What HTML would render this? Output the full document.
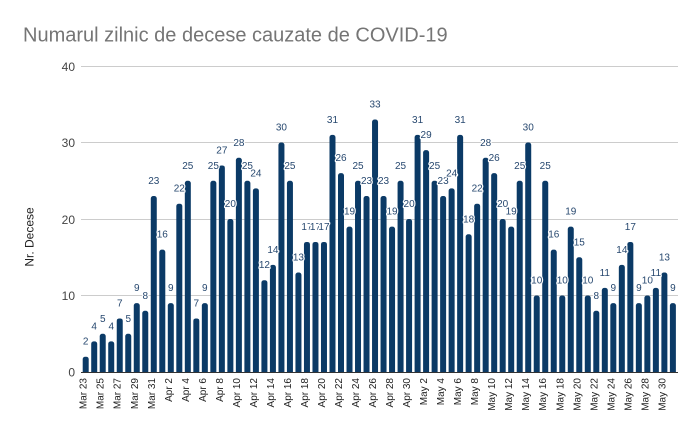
<!DOCTYPE html>
<html><head><meta charset="utf-8"><style>
html,body{margin:0;padding:0;background:#fff;}
svg{display:block;font-family:"Liberation Sans",Arial,sans-serif;}
.dl text{font-size:10px;fill:#27486f;text-anchor:middle;stroke:#fff;stroke-width:2.5px;paint-order:stroke;stroke-linejoin:round;}
.xl text{font-size:10px;fill:#222;text-anchor:end;}
.yl text{font-size:12px;fill:#444;text-anchor:end;}
</style></head><body>
<svg width="700" height="434" viewBox="0 0 700 434" xmlns="http://www.w3.org/2000/svg">
<defs><clipPath id="pc"><rect x="0" y="0" width="700" height="372"/></clipPath></defs>
<rect width="700" height="434" fill="#fff"/>
<text x="23" y="41.5" font-size="20" fill="#757575">Numarul zilnic de decese cauzate de COVID-19</text>
<g stroke="#cccccc" stroke-width="1">
<line x1="81" x2="678" y1="66.5" y2="66.5"/>
<line x1="81" x2="678" y1="142.5" y2="142.5"/>
<line x1="81" x2="678" y1="219.5" y2="219.5"/>
<line x1="81" x2="678" y1="295.5" y2="295.5"/>
</g>
<g class="yl">
<text x="75" y="71">40</text>
<text x="75" y="147">30</text>
<text x="75" y="224">20</text>
<text x="75" y="300">10</text>
<text x="75" y="376.5">0</text>
</g>
<text transform="translate(33.5,237) rotate(-90)" text-anchor="middle" font-size="12" fill="#222">Nr. Decese</text>
<g fill="#0b3a66" clip-path="url(#pc)">
<rect x="82.7" y="356.7" width="6" height="20" rx="2.5"/>
<rect x="91.21" y="341.4" width="6" height="35" rx="2.5"/>
<rect x="99.72" y="333.75" width="6" height="43" rx="2.5"/>
<rect x="108.23" y="341.4" width="6" height="35" rx="2.5"/>
<rect x="116.74" y="318.45" width="6" height="58" rx="2.5"/>
<rect x="125.25" y="333.75" width="6" height="43" rx="2.5"/>
<rect x="133.76" y="303.15" width="6" height="73" rx="2.5"/>
<rect x="142.27" y="310.8" width="6" height="66" rx="2.5"/>
<rect x="150.78" y="196.05" width="6" height="181" rx="2.5"/>
<rect x="159.29" y="249.6" width="6" height="127" rx="2.5"/>
<rect x="167.8" y="303.15" width="6" height="73" rx="2.5"/>
<rect x="176.31" y="203.7" width="6" height="173" rx="2.5"/>
<rect x="184.82" y="180.75" width="6" height="196" rx="2.5"/>
<rect x="193.33" y="318.45" width="6" height="58" rx="2.5"/>
<rect x="201.84" y="303.15" width="6" height="73" rx="2.5"/>
<rect x="210.35" y="180.75" width="6" height="196" rx="2.5"/>
<rect x="218.86" y="165.45" width="6" height="211" rx="2.5"/>
<rect x="227.37" y="219" width="6" height="158" rx="2.5"/>
<rect x="235.88" y="157.8" width="6" height="219" rx="2.5"/>
<rect x="244.39" y="180.75" width="6" height="196" rx="2.5"/>
<rect x="252.9" y="188.4" width="6" height="188" rx="2.5"/>
<rect x="261.41" y="280.2" width="6" height="96" rx="2.5"/>
<rect x="269.92" y="264.9" width="6" height="112" rx="2.5"/>
<rect x="278.43" y="142.5" width="6" height="234" rx="2.5"/>
<rect x="286.94" y="180.75" width="6" height="196" rx="2.5"/>
<rect x="295.45" y="272.55" width="6" height="104" rx="2.5"/>
<rect x="303.96" y="241.95" width="6" height="135" rx="2.5"/>
<rect x="312.47" y="241.95" width="6" height="135" rx="2.5"/>
<rect x="320.98" y="241.95" width="6" height="135" rx="2.5"/>
<rect x="329.49" y="134.85" width="6" height="242" rx="2.5"/>
<rect x="338" y="173.1" width="6" height="204" rx="2.5"/>
<rect x="346.51" y="226.65" width="6" height="150" rx="2.5"/>
<rect x="355.02" y="180.75" width="6" height="196" rx="2.5"/>
<rect x="363.53" y="196.05" width="6" height="181" rx="2.5"/>
<rect x="372.04" y="119.55" width="6" height="257" rx="2.5"/>
<rect x="380.55" y="196.05" width="6" height="181" rx="2.5"/>
<rect x="389.06" y="226.65" width="6" height="150" rx="2.5"/>
<rect x="397.57" y="180.75" width="6" height="196" rx="2.5"/>
<rect x="406.08" y="219" width="6" height="158" rx="2.5"/>
<rect x="414.59" y="134.85" width="6" height="242" rx="2.5"/>
<rect x="423.1" y="150.15" width="6" height="227" rx="2.5"/>
<rect x="431.61" y="180.75" width="6" height="196" rx="2.5"/>
<rect x="440.12" y="196.05" width="6" height="181" rx="2.5"/>
<rect x="448.63" y="188.4" width="6" height="188" rx="2.5"/>
<rect x="457.14" y="134.85" width="6" height="242" rx="2.5"/>
<rect x="465.65" y="234.3" width="6" height="142" rx="2.5"/>
<rect x="474.16" y="203.7" width="6" height="173" rx="2.5"/>
<rect x="482.67" y="157.8" width="6" height="219" rx="2.5"/>
<rect x="491.18" y="173.1" width="6" height="204" rx="2.5"/>
<rect x="499.69" y="219" width="6" height="158" rx="2.5"/>
<rect x="508.2" y="226.65" width="6" height="150" rx="2.5"/>
<rect x="516.71" y="180.75" width="6" height="196" rx="2.5"/>
<rect x="525.22" y="142.5" width="6" height="234" rx="2.5"/>
<rect x="533.73" y="295.5" width="6" height="81" rx="2.5"/>
<rect x="542.24" y="180.75" width="6" height="196" rx="2.5"/>
<rect x="550.75" y="249.6" width="6" height="127" rx="2.5"/>
<rect x="559.26" y="295.5" width="6" height="81" rx="2.5"/>
<rect x="567.77" y="226.65" width="6" height="150" rx="2.5"/>
<rect x="576.28" y="257.25" width="6" height="120" rx="2.5"/>
<rect x="584.79" y="295.5" width="6" height="81" rx="2.5"/>
<rect x="593.3" y="310.8" width="6" height="66" rx="2.5"/>
<rect x="601.81" y="287.85" width="6" height="89" rx="2.5"/>
<rect x="610.32" y="303.15" width="6" height="73" rx="2.5"/>
<rect x="618.83" y="264.9" width="6" height="112" rx="2.5"/>
<rect x="627.34" y="241.95" width="6" height="135" rx="2.5"/>
<rect x="635.85" y="303.15" width="6" height="73" rx="2.5"/>
<rect x="644.36" y="295.5" width="6" height="81" rx="2.5"/>
<rect x="652.87" y="287.85" width="6" height="89" rx="2.5"/>
<rect x="661.38" y="272.55" width="6" height="104" rx="2.5"/>
<rect x="669.89" y="303.15" width="6" height="73" rx="2.5"/>
</g>
<line x1="81" x2="678" y1="372.5" y2="372.5" stroke="#333" stroke-width="1"/>
<g class="dl">
<text x="85.7" y="344.7">2</text>
<text x="94.21" y="329.4">4</text>
<text x="102.72" y="321.75">5</text>
<text x="111.23" y="329.4">4</text>
<text x="119.74" y="306.45">7</text>
<text x="128.25" y="321.75">5</text>
<text x="136.76" y="291.15">9</text>
<text x="145.27" y="298.8">8</text>
<text x="153.78" y="184.05">23</text>
<text x="162.29" y="237.6">16</text>
<text x="170.8" y="291.15">9</text>
<text x="179.31" y="191.7">22</text>
<text x="187.82" y="168.75">25</text>
<text x="196.33" y="306.45">7</text>
<text x="204.84" y="291.15">9</text>
<text x="213.35" y="168.75">25</text>
<text x="221.86" y="153.45">27</text>
<text x="230.37" y="207">20</text>
<text x="238.88" y="145.8">28</text>
<text x="247.39" y="168.75">25</text>
<text x="255.9" y="176.4">24</text>
<text x="264.41" y="268.2">12</text>
<text x="272.92" y="252.9">14</text>
<text x="281.43" y="130.5">30</text>
<text x="289.94" y="168.75">25</text>
<text x="298.45" y="260.55">13</text>
<text x="306.96" y="229.95">17</text>
<text x="315.47" y="229.95">17</text>
<text x="323.98" y="229.95">17</text>
<text x="332.49" y="122.85">31</text>
<text x="341" y="161.1">26</text>
<text x="349.51" y="214.65">19</text>
<text x="358.02" y="168.75">25</text>
<text x="366.53" y="184.05">23</text>
<text x="375.04" y="107.55">33</text>
<text x="383.55" y="184.05">23</text>
<text x="392.06" y="214.65">19</text>
<text x="400.57" y="168.75">25</text>
<text x="409.08" y="207">20</text>
<text x="417.59" y="122.85">31</text>
<text x="426.1" y="138.15">29</text>
<text x="434.61" y="168.75">25</text>
<text x="443.12" y="184.05">23</text>
<text x="451.63" y="176.4">24</text>
<text x="460.14" y="122.85">31</text>
<text x="468.65" y="222.3">18</text>
<text x="477.16" y="191.7">22</text>
<text x="485.67" y="145.8">28</text>
<text x="494.18" y="161.1">26</text>
<text x="502.69" y="207">20</text>
<text x="511.2" y="214.65">19</text>
<text x="519.71" y="168.75">25</text>
<text x="528.22" y="130.5">30</text>
<text x="536.73" y="283.5">10</text>
<text x="545.24" y="168.75">25</text>
<text x="553.75" y="237.6">16</text>
<text x="562.26" y="283.5">10</text>
<text x="570.77" y="214.65">19</text>
<text x="579.28" y="245.25">15</text>
<text x="587.79" y="283.5">10</text>
<text x="596.3" y="298.8">8</text>
<text x="604.81" y="275.85">11</text>
<text x="613.32" y="291.15">9</text>
<text x="621.83" y="252.9">14</text>
<text x="630.34" y="229.95">17</text>
<text x="638.85" y="291.15">9</text>
<text x="647.36" y="283.5">10</text>
<text x="655.87" y="275.85">11</text>
<text x="664.38" y="260.55">13</text>
<text x="672.89" y="291.15">9</text>
</g>
<g class="xl">
<text transform="translate(86.7,378) rotate(-90)">Mar 23</text>
<text transform="translate(103.72,378) rotate(-90)">Mar 25</text>
<text transform="translate(120.74,378) rotate(-90)">Mar 27</text>
<text transform="translate(137.76,378) rotate(-90)">Mar 29</text>
<text transform="translate(154.78,378) rotate(-90)">Mar 31</text>
<text transform="translate(171.8,378) rotate(-90)">Apr 2</text>
<text transform="translate(188.82,378) rotate(-90)">Apr 4</text>
<text transform="translate(205.84,378) rotate(-90)">Apr 6</text>
<text transform="translate(222.86,378) rotate(-90)">Apr 8</text>
<text transform="translate(239.88,378) rotate(-90)">Apr 10</text>
<text transform="translate(256.9,378) rotate(-90)">Apr 12</text>
<text transform="translate(273.92,378) rotate(-90)">Apr 14</text>
<text transform="translate(290.94,378) rotate(-90)">Apr 16</text>
<text transform="translate(307.96,378) rotate(-90)">Apr 18</text>
<text transform="translate(324.98,378) rotate(-90)">Apr 20</text>
<text transform="translate(342,378) rotate(-90)">Apr 22</text>
<text transform="translate(359.02,378) rotate(-90)">Apr 24</text>
<text transform="translate(376.04,378) rotate(-90)">Apr 26</text>
<text transform="translate(393.06,378) rotate(-90)">Apr 28</text>
<text transform="translate(410.08,378) rotate(-90)">Apr 30</text>
<text transform="translate(427.1,378) rotate(-90)">May 2</text>
<text transform="translate(444.12,378) rotate(-90)">May 4</text>
<text transform="translate(461.14,378) rotate(-90)">May 6</text>
<text transform="translate(478.16,378) rotate(-90)">May 8</text>
<text transform="translate(495.18,378) rotate(-90)">May 10</text>
<text transform="translate(512.2,378) rotate(-90)">May 12</text>
<text transform="translate(529.22,378) rotate(-90)">May 14</text>
<text transform="translate(546.24,378) rotate(-90)">May 16</text>
<text transform="translate(563.26,378) rotate(-90)">May 18</text>
<text transform="translate(580.28,378) rotate(-90)">May 20</text>
<text transform="translate(597.3,378) rotate(-90)">May 22</text>
<text transform="translate(614.32,378) rotate(-90)">May 24</text>
<text transform="translate(631.34,378) rotate(-90)">May 26</text>
<text transform="translate(648.36,378) rotate(-90)">May 28</text>
<text transform="translate(665.38,378) rotate(-90)">May 30</text>
</g>
</svg>
</body></html>
